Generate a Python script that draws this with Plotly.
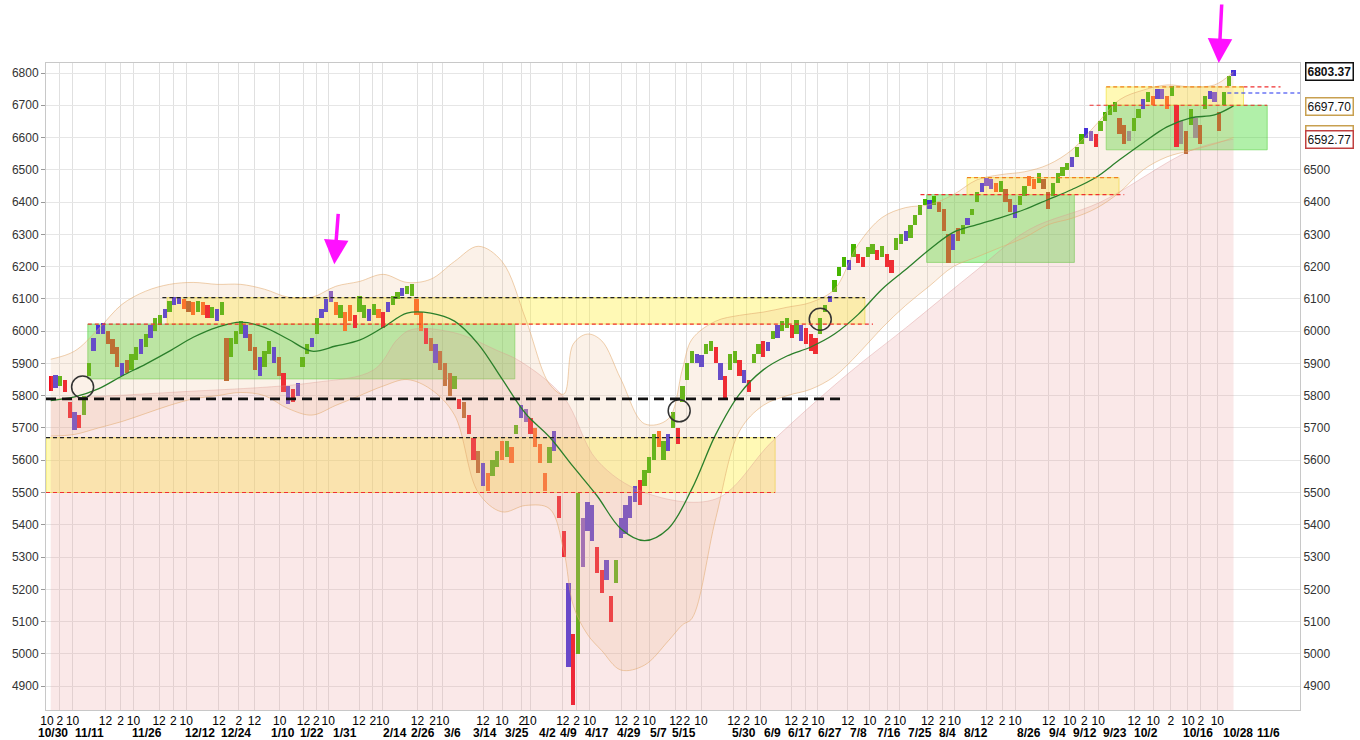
import plotly.graph_objects as go

# ---- price bars, one per trading day (low / high of each bar) ----
bar_lo = [5815, 5825, 5830, 5810, 5730, 5695, 5700, 5740, 5860, 5940,
          5990, 5990, 5960, 5930, 5890, 5860, 5870, 5880, 5910, 5930,
          5950, 5980, 6000, 6020, 6040, 6060, 6080, 6085, 6070, 6060,
          6050, 6060, 6050, 6040, 6040, 6030, 6050, 5845, 5920, 5960,
          5990, 5980, 5940, 5880, 5860, 5890, 5930, 5900, 5860, 5810,
          5775, 5780, 5800, 5890, 5930, 5950, 5990, 6040, 6060, 6090,
          6050, 6040, 6000, 6030, 6010, 6060, 6040, 6030, 6050, 6040,
          6010, 6060, 6080, 6100, 6110, 6115, 6110, 6050, 6000, 5960,
          5940, 5900, 5880, 5830, 5800, 5820, 5760, 5730, 5680, 5600,
          5560, 5520, 5505, 5550, 5580, 5600, 5610, 5590, 5680, 5730,
          5720, 5680, 5640, 5590, 5505, 5590, 5630, 5420, 5300, 4960,
          4840, 5000, 5270, 5380, 5350, 5250, 5190, 5230, 5100, 5220,
          5360, 5370, 5420, 5470, 5460, 5520, 5560, 5600, 5640, 5600,
          5630, 5700, 5650, 5780, 5850, 5900, 5900, 5890, 5930, 5940,
          5900, 5850, 5790, 5880, 5900, 5860, 5840, 5810, 5900, 5930,
          5920, 5940, 5975, 5980, 6000, 6010, 5980, 5990, 5970, 5960,
          5940, 5930, 5990, 6060, 6090, 6120, 6170, 6200, 6190, 6230,
          6210, 6200, 6230, 6240, 6220, 6230, 6200, 6180, 6250, 6270,
          6280, 6290, 6330, 6360, 6390, 6380, 6390, 6370, 6310, 6210,
          6250, 6280, 6300, 6330, 6360, 6400, 6430, 6450, 6440, 6430,
          6430, 6400, 6370, 6350, 6390, 6420, 6450, 6440, 6460, 6440,
          6380, 6420, 6460, 6480, 6500, 6510, 6540, 6580, 6600, 6590,
          6570, 6620, 6650, 6670, 6680, 6610, 6580, 6590, 6620, 6660,
          6690, 6710, 6700, 6720, 6720, 6690, 6730, 6570, 6580, 6550,
          6640, 6600, 6580, 6690, 6720, 6710, 6620, 6700, 6760, 6790]
bar_hi = [5860, 5865, 5860, 5850, 5780, 5750, 5740, 5800, 5900, 5980,
          6020, 6025, 6000, 5975, 5950, 5900, 5910, 5930, 5950, 5975,
          5990, 6020, 6040, 6050, 6070, 6095, 6105, 6105, 6100, 6095,
          6090, 6095, 6090, 6080, 6075, 6070, 6090, 5980, 5980, 6000,
          6030, 6020, 5990, 5950, 5920, 5940, 5970, 5950, 5920, 5870,
          5830, 5820, 5840, 5920, 5960, 5980, 6040, 6070, 6100, 6125,
          6090, 6080, 6060, 6080, 6050, 6110, 6080, 6070, 6085, 6070,
          6060, 6090, 6110, 6120, 6135, 6140, 6145, 6100, 6060, 6010,
          5980, 5960, 5940, 5900, 5870, 5860, 5790, 5780, 5740, 5670,
          5630, 5590, 5560, 5600, 5630, 5660, 5660, 5640, 5710, 5770,
          5760, 5730, 5700, 5650, 5560, 5640, 5690, 5490, 5380, 5220,
          5060, 5500, 5420, 5470, 5460, 5330, 5260, 5290, 5180, 5290,
          5420, 5460, 5490, 5520, 5540, 5570, 5610, 5680, 5690, 5660,
          5680, 5750, 5700, 5830, 5900, 5940, 5930, 5925, 5960, 5970,
          5950, 5900, 5860, 5930, 5940, 5910, 5880, 5850, 5930, 5960,
          5970, 5965, 6000, 6020, 6030, 6040, 6020, 6035, 6020, 6010,
          5990, 5980, 6040, 6080, 6110, 6160, 6200, 6230, 6220, 6270,
          6240, 6230, 6260, 6270, 6250, 6265, 6240, 6220, 6290, 6300,
          6310, 6330, 6360, 6390, 6410, 6405, 6420, 6400, 6380, 6300,
          6300, 6320, 6330, 6350, 6380, 6430, 6460, 6475, 6470, 6460,
          6465, 6440, 6410, 6390, 6420, 6450, 6480, 6470, 6490, 6470,
          6430, 6460, 6490, 6510, 6520, 6540, 6570, 6610, 6630, 6620,
          6610, 6650, 6680, 6700, 6710, 6660, 6640, 6620, 6660, 6690,
          6720, 6740, 6730, 6750, 6750, 6730, 6760, 6700, 6650, 6620,
          6690, 6660, 6640, 6730, 6745, 6740, 6680, 6740, 6790, 6808]
# bar colour class: g up, r down, b blue, p purple, o orange, n brown, y grey
bar_col = ("rbgrrbrggb" "bbnnnbnggb" "gbggbgbbon" "ogorgbgngg" "gbnnbggbnr"
           "brbggbgbbp" "ogoorggbgo" "rbggbggoor" "nbnnngrnrr" "nboggogogb"
           "prooogbrrb" "rgpbbrrbrg" "bbbbrgggog" "bgrgggbbgg" "rbrggrbrgg"
           "rbgbggrgbr" "rrggbgggbg" "rrggrgrrgg" "bggggbgnnn" "bngbggbppo"
           "gnnbggoogn" "nggggbggbp" "rggggnnygg" "bgobpogryn" "gyngbpnggb")

# ---- moving average ----
ma_days = [0, 5, 10, 15, 20, 25, 30, 35, 40, 45, 50, 55, 60, 65, 70, 75, 80, 85, 90, 95,
           100, 105, 110, 115, 120, 125, 130, 135, 140, 145, 150, 155, 160, 165, 170,
           175, 180, 185, 190, 195, 200, 205, 210, 215, 220, 225, 230, 235, 240, 245, 249]
ma_vals = [5785, 5796, 5821, 5861, 5898, 5938, 5981, 6012, 6028, 6012, 5975, 5938, 5954,
           5972, 6012, 6056, 6056, 6031, 5960, 5852, 5744, 5672, 5580, 5490, 5388, 5351,
           5388, 5512, 5680, 5805, 5880, 5923, 5951, 5991, 6052, 6130, 6191, 6253, 6306,
           6330, 6352, 6377, 6408, 6439, 6476, 6531, 6584, 6633, 6661, 6670, 6698]

# ---- envelope (upper / lower band) ----
bb_days = [0, 5, 10, 15, 20, 25, 30, 35, 40, 45, 50, 55, 60, 65, 70, 75, 80, 85, 90, 95,
           100, 105, 108, 110, 113, 116, 120, 125, 130, 133, 135, 140, 145, 150, 155, 160,
           165, 170, 175, 180, 185, 190, 195, 200, 205, 210, 215, 220, 225, 230, 235, 240,
           245, 249]
bb_upper = [5913, 5938, 6006, 6083, 6124, 6145, 6151, 6145, 6145, 6130, 6105, 6105, 6139,
            6154, 6176, 6151, 6161, 6216, 6263, 6216, 6037, 5836, 5805, 5960, 5991, 5970,
            5852, 5713, 5728, 5883, 5975, 6031, 6049, 6059, 6074, 6089, 6130, 6269, 6352,
            6383, 6392, 6423, 6469, 6485, 6494, 6516, 6562, 6639, 6717, 6747, 6763, 6757,
            6763, 6803]
bb_lower = [5675, 5680, 5700, 5720, 5745, 5770, 5790, 5800, 5810, 5800, 5760, 5740, 5770,
            5800, 5830, 5850, 5820, 5740, 5500, 5440, 5460, 5450, 5320, 5150, 5060, 5010,
            4950, 4965, 5040, 5090, 5110, 5420, 5690, 5770, 5800, 5820, 5860, 5930, 6010,
            6080, 6140, 6200, 6230, 6260, 6290, 6330, 6350, 6380, 6430, 6500, 6540, 6560,
            6580, 6600]

# ---- long-term pink zone (top edge) ----
pink_days = [0, 25, 55, 68, 73, 76, 85, 94, 99, 108, 115, 125, 140, 152, 168, 180, 195,
             206, 221, 240, 249]
pink_top = [5790, 5810, 5840, 5880, 5975, 6005, 5995, 5940, 5905, 5795, 5600, 5500, 5480,
            5660, 5870, 6010, 6190, 6315, 6400, 6560, 6595]

# ---- zones: (day from, day to, price low, price high) ----
green_zones = [(7.8, 97.7, 5852, 6022), (184.4, 215.5, 6213, 6423), (222.2, 256.1, 6562, 6700)]
yellow_zones = [(24.5, 171.4, 6022, 6104), (-1, 152.5, 5500, 5670),
                (192.9, 224.9, 6423, 6476), (222.2, 251.1, 6700, 6757)]
# level lines: (day from, day to, price)
black_levels = [(23.5, 171.4, 6104), (-1, 152.5, 5670)]
red_levels = [(7.8, 173.1, 6022), (-1, 152.5, 5500), (183.1, 226.0, 6423),
              (218.7, 256.1, 6700), (251.1, 258.9, 6757)]
orange_levels = [(192.9, 224.9, 6476), (222.2, 251.1, 6757)]
blue_levels = [(247.7, 263.0, 6738)]
support_level = (-1, 166.4, 5790)

circle_days = [6.7, 132.3, 162.0]
circle_prices = [5827, 5753, 6037]

arrow_day_left, arrow_price_left = 59.7, 6207
arrow_day_top = 245.9

tag_texts = ["6600.47", "6592.77", "6697.70", "6803.37"]
tag_prices = [6609, 6592.77, 6697.70, 6803.37]

# ---- x axis labels ----
hour_days = [-0.8, 1.9, 4.6, 11.5, 14.7, 17.4, 22.8, 25.8, 28.5, 35.4, 39.6, 42.9, 48.2,
             53.2, 55.9, 58.4, 64.9, 67.8, 69.9, 77.2, 80.4, 82.5, 91.0, 95.0, 99.2, 100.9,
             107.8, 110.7, 113.4, 120.1, 123.3, 126.0, 131.6, 133.9, 136.9, 143.8, 146.5,
             149.4, 155.9, 158.8, 161.5, 167.8, 172.4, 176.2, 178.7, 184.6, 187.7, 190.2,
             197.1, 200.3, 203.0, 210.1, 214.5, 217.6, 220.5, 228.1, 232.1, 235.8, 239.4,
             242.1, 245.6]
hour_labels = ["10", "2", "10", "12", "2", "10", "12", "2", "10", "12", "2", "12", "10",
               "12", "2", "10", "12", "2", "10", "12", "2", "10", "12", "10", "2", "10",
               "12", "2", "10", "12", "2", "10", "12", "2", "10", "12", "2", "10",
               "12", "2", "10", "12", "10", "2", "10", "12", "2", "10",
               "12", "2", "10", "12", "10", "2", "10", "12", "10", "2", "10", "2", "10"]
date_days = [0.5, 8.2, 20.3, 31.4, 39.0, 48.8, 55.1, 62.0, 72.4, 78.3, 84.6, 91.5, 98.2,
             104.6, 109.0, 115.1, 121.8, 127.9, 133.3, 145.9, 151.9, 157.8, 164.1, 170.1,
             176.4, 182.9, 188.7, 194.8, 205.9, 212.0, 217.8, 224.1, 230.6, 241.5, 250.0,
             256.3]
date_labels = ["10/30", "11/11", "11/26", "12/12", "12/24", "1/10", "1/22", "1/31", "2/14",
               "2/26", "3/6", "3/14", "3/25", "4/2", "4/9", "4/17", "4/29", "5/7", "5/15",
               "5/30", "6/9", "6/17", "6/27", "7/8", "7/16", "7/25", "8/4", "8/12", "8/26",
               "9/4", "9/12", "9/23", "10/2", "10/16", "10/28", "11/6"]
right_ticks = [4900, 5000, 5100, 5200, 5300, 5400, 5500, 5600, 5700, 5800, 5900,
               6000, 6100, 6200, 6300, 6400, 6500]

palette = {"g": "#46b400", "r": "#f00a1e", "b": "#4632d8", "p": "#7a52c8",
           "o": "#ff6414", "n": "#b25d1e", "y": "#8c8c8c"}
FONT = "Arial, Liberation Sans, sans-serif"
Y_RANGE = [4826, 6831]

fig = go.Figure()

# pink long-term zone
fig.add_trace(go.Scatter(x=pink_days, y=pink_top, mode="lines", fill="tozeroy",
                         fillcolor="rgba(232,150,150,0.22)",
                         line=dict(color="rgba(215,140,140,0.35)", width=1, shape="spline"),
                         hoverinfo="skip", showlegend=False))
# envelope
fig.add_trace(go.Scatter(x=bb_days, y=bb_upper, mode="lines",
                         line=dict(color="rgba(225,170,110,0.55)", width=1, shape="spline"),
                         hoverinfo="skip", showlegend=False))
fig.add_trace(go.Scatter(x=bb_days, y=bb_lower, mode="lines", fill="tonexty",
                         fillcolor="rgba(235,185,140,0.2)",
                         line=dict(color="rgba(225,170,110,0.55)", width=1, shape="spline"),
                         hoverinfo="skip", showlegend=False))
# moving average
fig.add_trace(go.Scatter(x=ma_days, y=ma_vals, mode="lines",
                         line=dict(color="#2a7f2a", width=1.3, shape="spline"),
                         hoverinfo="skip", showlegend=False))

# price bars
for code, color in palette.items():
    idx = [i for i, c in enumerate(bar_col) if c == code]
    fig.add_trace(go.Bar(x=idx, base=[bar_lo[i] for i in idx],
                         y=[bar_hi[i] - bar_lo[i] for i in idx],
                         width=0.85, marker=dict(color=color, line=dict(width=0)),
                         hoverinfo="skip", showlegend=False))

# circles
fig.add_trace(go.Scatter(x=circle_days, y=circle_prices, mode="markers",
                         marker=dict(symbol="circle-open", size=22, color="#333",
                                     line=dict(color="#333", width=1.5)),
                         hoverinfo="skip", showlegend=False))

# dummy trace so the right axis renders
fig.add_trace(go.Scatter(x=[0], y=[6000], yaxis="y2", mode="markers",
                         marker=dict(opacity=0), hoverinfo="skip", showlegend=False))

shapes = []
for x0, x1, y0, y1 in green_zones:
    shapes.append(dict(type="rect", x0=x0, x1=x1, y0=y0, y1=y1, layer="between",
                       fillcolor="rgba(70,220,50,0.42)",
                       line=dict(color="rgba(90,210,70,0.6)", width=1)))
for x0, x1, y0, y1 in yellow_zones:
    shapes.append(dict(type="rect", x0=x0, x1=x1, y0=y0, y1=y1, layer="between",
                       fillcolor="rgba(255,240,60,0.38)",
                       line=dict(color="rgba(240,225,60,0.7)", width=1)))
for lines, color in [(black_levels, "#222"), (red_levels, "#f03030"),
                     (orange_levels, "#f08020"), (blue_levels, "#2030f0")]:
    for x0, x1, y in lines:
        shapes.append(dict(type="line", x0=x0, x1=x1, y0=y, y1=y, layer="above",
                           line=dict(color=color, width=1.2, dash="4px,3px")))
sx0, sx1, sy = support_level
shapes.append(dict(type="line", x0=sx0, x1=sx1, y0=sy, y1=sy, layer="above",
                   line=dict(color="#111", width=2.6, dash="10px,6px")))

annotations = []
for d, lab in zip(date_days, date_labels):
    annotations.append(dict(x=d, y=0, xref="x", yref="paper", yanchor="top", yshift=-14,
                            text=f"<b>{lab}</b>", showarrow=False,
                            font=dict(family=FONT, size=12, color="#000")))
# magenta hand-drawn arrows
annotations.append(dict(x=arrow_day_left, y=arrow_price_left, xref="x", yref="y",
                        ax=4, ay=-52, showarrow=True, arrowhead=2, arrowsize=1.4,
                        arrowwidth=3.5, arrowcolor="#ff10ff", text=""))
annotations.append(dict(x=arrow_day_top, y=1.0, xref="x", yref="paper",
                        ax=3, ay=-60, showarrow=True, arrowhead=2, arrowsize=1.4,
                        arrowwidth=3.5, arrowcolor="#ff10ff", text=""))
# price tags on the right (the first one sits mostly hidden behind the second)
tag_borders = ["#c8a050", "#c04040", "#c8a050", "#111"]
for txt, val, bc in zip(tag_texts, tag_prices, tag_borders):
    bold = txt == tag_texts[-1]
    annotations.append(dict(x=1, y=val, xref="paper", yref="y", xanchor="left",
                            xshift=5, showarrow=False,
                            text=f"<b>{txt}</b>" if bold else txt,
                            bgcolor="white", bordercolor=bc, borderwidth=1.5, borderpad=1,
                            font=dict(family=FONT, size=12, color="#111")))

fig.update_layout(
    width=1360, height=740,
    margin=dict(l=38, r=60, t=63, b=28),
    paper_bgcolor="white", plot_bgcolor="white",
    barmode="overlay", bargap=0,
    font=dict(family=FONT, size=12, color="#222"),
    shapes=shapes, annotations=annotations,
    xaxis=dict(range=[-1, 263], tickmode="array", tickvals=hour_days, ticktext=hour_labels,
               tickangle=0, showgrid=True, gridcolor="#e0e0e0", gridwidth=1,
               zeroline=False, showline=True, linecolor="#c8c8c8", mirror=True,
               ticks="", tickfont=dict(family=FONT, size=12, color="#000")),
    yaxis=dict(range=Y_RANGE, tick0=4900, dtick=100, showgrid=True, gridcolor="#e6e6e6",
               zeroline=False, showline=True, linecolor="#c8c8c8", ticks="outside",
               ticklen=4, tickcolor="#999", tickfont=dict(family=FONT, size=12, color="#333")),
    yaxis2=dict(range=Y_RANGE, tickmode="array", tickvals=right_ticks, overlaying="y",
                side="right", showgrid=False, zeroline=False, showline=True,
                linecolor="#c8c8c8", ticks="",
                tickfont=dict(family=FONT, size=12, color="#333")),
)

# the page body has a default margin; drop it so the figure sits at the window origin
fig.write_html("out.html", config={"displayModeBar": False},
               post_script="document.body.style.margin='0px';")
